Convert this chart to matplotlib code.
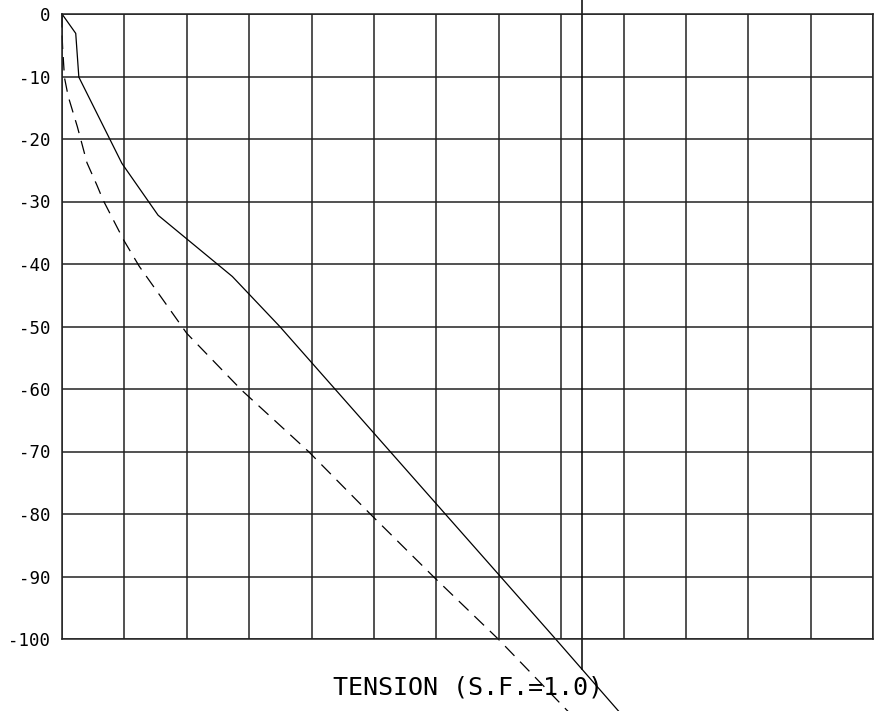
import numpy as np
import matplotlib
matplotlib.use("Agg")
import matplotlib.pyplot as plt

# depth (ft) vs tension, one grid division = 1 unit of tension
depth_ticks = [0, -10, -20, -30, -40, -50, -60, -70, -80, -90, -100]
tick_labels = ["0", "-10", "-20", "-30", "-40", "-50", "-60", "-70", "-80", "-90", "-100"]

# solid curve
solid_x = [0.0, 0.22, 0.27, 0.96, 1.54, 2.73, 3.49, 7.91, 8.96]
solid_y = [0.0, -3.1, -10.1, -23.9, -32.2, -42.0, -50.0, -100.0, -112.0]

# dashed curve
dash_x = [0.0, 0.0, 0.01, 0.04, 0.10, 0.245, 0.315, 0.40, 0.56, 0.66, 0.99, 1.24,
          2.0, 2.88, 3.95, 4.94, 5.95, 6.99, 8.15]
dash_y = [0.0, -3.0, -5.4, -10.2, -13.2, -18.0, -20.6, -23.8, -27.4, -29.8, -36.2, -40.4,
          -51.1, -60.2, -70.0, -80.0, -90.0, -100.0, -112.0]

# vertical marker line
marker_x = 8.33

plt.rcParams["axes.unicode_minus"] = False
plt.rcParams["lines.scale_dashes"] = False
plt.rcParams["font.family"] = ["DejaVu Sans Mono"]

W, H = 878, 711
fig = plt.figure(figsize=(W / 100, H / 100), dpi=100)
left, right, top, bottom = 62, 873.2, 14, 639
ax = fig.add_axes([left / W, (H - bottom) / H, (right - left) / W, (bottom - top) / H])

ax.set_xlim(0, 13)
ax.set_ylim(-100, 0)
ax.set_xticks(np.arange(0, 14))
ax.set_yticks(depth_ticks)
ax.set_yticklabels(tick_labels, fontsize=12.5)
ax.tick_params(axis="x", length=0, labelbottom=False)
ax.tick_params(axis="y", length=0, pad=8.5)
ax.grid(True, color="#222222", linewidth=1.1)
for sp in ax.spines.values():
    sp.set_color("#222222")
    sp.set_linewidth(1.1)

ax.plot(solid_x, solid_y, color="black", lw=0.9, clip_on=False)
ax.plot(dash_x, dash_y, color="black", lw=0.9, dashes=(9.7, 5.8), clip_on=False)

# vertical line from the top of the sheet down to the solid curve
y_end = np.interp(marker_x, solid_x[::-1] if solid_x[0] > solid_x[-1] else solid_x, solid_y)
ax.plot([marker_x, marker_x], [3.0, y_end], color="black", lw=1.1, clip_on=False)

ax.set_xlabel("TENSION (S.F.=1.0)", fontsize=18, va="center")
ax.xaxis.set_label_coords(0.5, -0.077)

fig.savefig("out.png", dpi=100)
